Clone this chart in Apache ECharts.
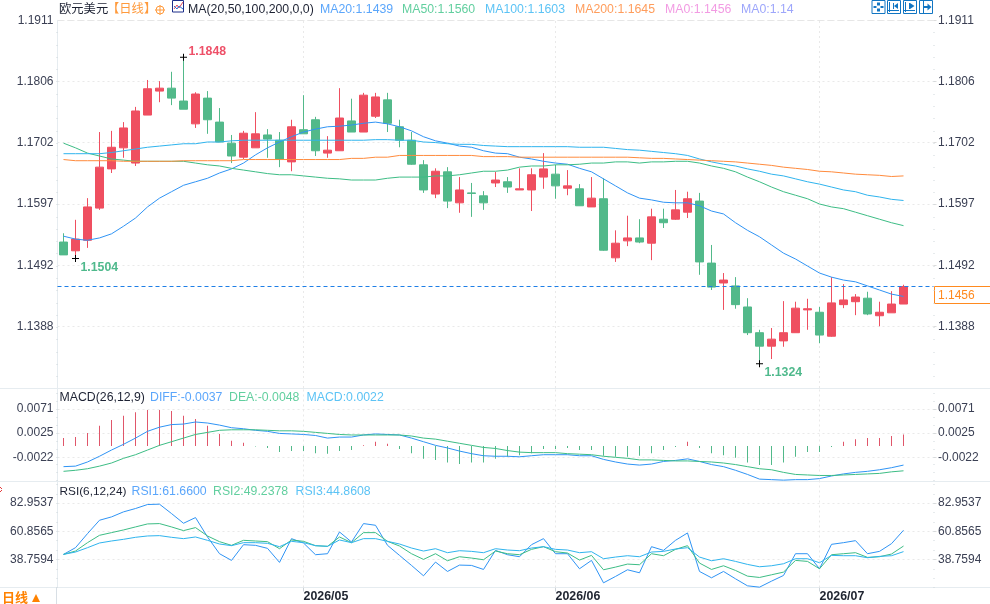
<!DOCTYPE html>
<html>
<head>
<meta charset="utf-8">
<title>欧元美元 日线</title>
<style>html,body{margin:0;padding:0;background:#fff}#chart{width:990px;height:604px}</style>
<script src="https://cdn.jsdelivr.net/npm/echarts@6/dist/echarts.min.js"></script>
</head>
<body>
<div id="chart"></div>
<script>
// Trading days shown on the shared time axis.
const dates = [
'2026-04-03','2026-04-06','2026-04-07','2026-04-08','2026-04-09','2026-04-10','2026-04-13','2026-04-14','2026-04-15','2026-04-16',
'2026-04-17','2026-04-20','2026-04-21','2026-04-22','2026-04-23','2026-04-24','2026-04-27','2026-04-28','2026-04-29','2026-04-30',
'2026-05-01','2026-05-04','2026-05-05','2026-05-06','2026-05-07','2026-05-08','2026-05-11','2026-05-12','2026-05-13','2026-05-14',
'2026-05-15','2026-05-18','2026-05-19','2026-05-20','2026-05-21','2026-05-22','2026-05-25','2026-05-26','2026-05-27','2026-05-28',
'2026-05-29','2026-06-01','2026-06-02','2026-06-03','2026-06-04','2026-06-05','2026-06-08','2026-06-09','2026-06-10','2026-06-11',
'2026-06-12','2026-06-15','2026-06-16','2026-06-17','2026-06-18','2026-06-19','2026-06-22','2026-06-23','2026-06-24','2026-06-25',
'2026-06-26','2026-06-29','2026-06-30','2026-07-01','2026-07-02','2026-07-03','2026-07-06','2026-07-07','2026-07-08','2026-07-09',
'2026-07-10','',''];

// Daily candles.
const opens = [1.1532,1.1517,1.1535,1.1590,1.1657,1.1693,1.1667,1.1749,1.1790,1.1795,1.1773,1.1734,1.1778,1.1737,1.1701,1.1677,1.1693,1.1715,1.1706,1.1669,1.1724,1.1741,1.1684,1.1688,1.1739,1.1720,1.1747,1.1775,1.1729,1.1706,1.1664,1.1614,1.1652,1.1599,1.1616,1.1611,1.1633,1.1635,1.1621,1.1621,1.1643,1.1648,1.1624,1.1623,1.1592,1.1606,1.1505,1.1534,1.1539,1.1530,1.1571,1.1571,1.1583,1.1602,1.1496,1.1462,1.1457,1.1421,1.1377,1.1354,1.1363,1.1377,1.1416,1.1412,1.1371,1.1425,1.1430,1.1436,1.1406,1.1411,1.1426];
const closes = [1.1510,1.1537,1.1592,1.1660,1.1694,1.1727,1.1756,1.1794,1.1795,1.1778,1.1759,1.1785,1.1741,1.1703,1.1679,1.1718,1.1717,1.1708,1.1674,1.1729,1.1717,1.1688,1.1689,1.1744,1.1720,1.1783,1.1780,1.1735,1.1706,1.1665,1.1621,1.1653,1.1602,1.1621,1.1615,1.1599,1.1638,1.1626,1.1623,1.1647,1.1657,1.1628,1.1628,1.1594,1.1607,1.1518,1.1530,1.1539,1.1532,1.1575,1.1565,1.1587,1.1606,1.1498,1.1455,1.1467,1.1425,1.1377,1.1354,1.1366,1.1377,1.1419,1.1418,1.1373,1.1428,1.1433,1.1438,1.1409,1.1412,1.1426,1.1456];
const lows = [1.1510,1.1504,1.1522,1.1587,1.1650,1.1676,1.1662,1.1749,1.1771,1.1766,1.1759,1.1727,1.1717,1.1703,1.1667,1.1674,1.1693,1.1676,1.1660,1.1653,1.1717,1.1679,1.1676,1.1688,1.1720,1.1720,1.1744,1.1720,1.1694,1.1664,1.1616,1.1607,1.1590,1.1582,1.1575,1.1587,1.1626,1.1616,1.1621,1.1585,1.1623,1.1606,1.1612,1.1594,1.1592,1.1517,1.1498,1.1525,1.1530,1.1501,1.1556,1.1570,1.1573,1.1476,1.1450,1.1416,1.1418,1.1373,1.1324,1.1332,1.1353,1.1377,1.1382,1.1359,1.1370,1.1419,1.1407,1.1407,1.1388,1.1411,1.1426];
const highs = [1.1547,1.1570,1.1607,1.1720,1.1722,1.1737,1.1763,1.1809,1.1807,1.1823,1.1848,1.1788,1.1790,1.1761,1.1715,1.1722,1.1754,1.1725,1.1720,1.1741,1.1783,1.1746,1.1713,1.1795,1.1777,1.1787,1.1787,1.1787,1.1741,1.1720,1.1672,1.1658,1.1660,1.1643,1.1633,1.1619,1.1652,1.1643,1.1658,1.1658,1.1684,1.1664,1.1655,1.1631,1.1643,1.1641,1.1552,1.1577,1.1571,1.1589,1.1589,1.1621,1.1618,1.1616,1.1527,1.1479,1.1472,1.1436,1.1382,1.1385,1.1431,1.1430,1.1435,1.1421,1.1472,1.1460,1.1443,1.1447,1.1430,1.1448,1.1459];

// Moving averages.
const ma20 = [1.1542,1.1537,1.1535,1.1539,1.1546,1.1559,1.1573,1.1592,1.1607,1.1618,1.1629,1.1635,1.1641,1.1650,1.1657,1.1667,1.1681,1.1693,1.1703,1.1712,1.1720,1.1725,1.1729,1.1730,1.1732,1.1735,1.1737,1.1734,1.1729,1.1722,1.1712,1.1705,1.1701,1.1696,1.1694,1.1688,1.1684,1.1683,1.1677,1.1674,1.1670,1.1667,1.1665,1.1658,1.1652,1.1640,1.1628,1.1616,1.1607,1.1604,1.1600,1.1599,1.1599,1.1594,1.1585,1.1580,1.1565,1.1552,1.1541,1.1527,1.1513,1.1503,1.1491,1.1479,1.1472,1.1467,1.1464,1.1457,1.1450,1.1443,1.1439];
const ma50 = [1.1701,1.1693,1.1684,1.1679,1.1674,1.1672,1.1670,1.1670,1.1670,1.1670,1.1670,1.1667,1.1664,1.1662,1.1658,1.1655,1.1652,1.1649,1.1647,1.1647,1.1645,1.1643,1.1641,1.1640,1.1638,1.1638,1.1638,1.1641,1.1643,1.1643,1.1643,1.1645,1.1645,1.1647,1.1650,1.1653,1.1653,1.1655,1.1660,1.1662,1.1662,1.1664,1.1664,1.1665,1.1667,1.1667,1.1669,1.1669,1.1667,1.1669,1.1669,1.1670,1.1670,1.1667,1.1662,1.1658,1.1652,1.1643,1.1635,1.1626,1.1618,1.1612,1.1606,1.1597,1.1592,1.1589,1.1583,1.1577,1.1571,1.1565,1.1560];
const ma100 = [1.1683,1.1683,1.1683,1.1683,1.1685,1.1688,1.1691,1.1694,1.1696,1.1698,1.1700,1.1700,1.1703,1.1703,1.1705,1.1706,1.1706,1.1706,1.1706,1.1706,1.1706,1.1706,1.1706,1.1706,1.1706,1.1706,1.1707,1.1707,1.1706,1.1706,1.1703,1.1702,1.1700,1.1699,1.1699,1.1697,1.1696,1.1695,1.1695,1.1695,1.1695,1.1695,1.1695,1.1694,1.1694,1.1694,1.1692,1.1690,1.1689,1.1687,1.1685,1.1683,1.1680,1.1674,1.1669,1.1665,1.1662,1.1657,1.1653,1.1648,1.1645,1.1640,1.1635,1.1631,1.1626,1.1621,1.1618,1.1612,1.1609,1.1605,1.1603];
const ma200 = [1.1673,1.1671,1.1671,1.1671,1.1671,1.1670,1.1670,1.1670,1.1670,1.1670,1.1671,1.1671,1.1671,1.1671,1.1671,1.1673,1.1673,1.1673,1.1673,1.1673,1.1673,1.1673,1.1673,1.1673,1.1675,1.1675,1.1677,1.1677,1.1680,1.1680,1.1680,1.1680,1.1680,1.1680,1.1680,1.1678,1.1678,1.1678,1.1677,1.1677,1.1677,1.1677,1.1677,1.1677,1.1677,1.1677,1.1677,1.1677,1.1676,1.1675,1.1675,1.1674,1.1673,1.1672,1.1671,1.1670,1.1669,1.1667,1.1665,1.1663,1.1660,1.1658,1.1656,1.1653,1.1652,1.1650,1.1648,1.1647,1.1646,1.1644,1.1645];

// MACD panel.
const macdBars = [0.0015,0.0017,0.0025,0.0039,0.0050,0.0058,0.0065,0.0069,0.0069,0.0067,0.0058,0.0052,0.0039,0.0023,0.0010,0.0006,-0.0001,-0.0004,-0.0012,-0.0010,-0.0010,-0.0014,-0.0015,-0.0010,-0.0008,0.0001,0.0008,0.0004,-0.0006,-0.0014,-0.0025,-0.0027,-0.0032,-0.0035,-0.0032,-0.0032,-0.0025,-0.0021,-0.0018,-0.0014,-0.0006,-0.0006,-0.0004,-0.0008,-0.0008,-0.0019,-0.0021,-0.0021,-0.0019,-0.0014,-0.0008,-0.0002,0.0008,-0.0004,-0.0014,-0.0018,-0.0023,-0.0032,-0.0037,-0.0037,-0.0032,-0.0021,-0.0012,-0.0012,-0.0002,0.0008,0.0013,0.0015,0.0015,0.0019,0.0022];
const diff = [-0.0040,-0.0039,-0.0031,-0.0020,-0.0008,0.0003,0.0015,0.0028,0.0036,0.0041,0.0042,0.0046,0.0044,0.0040,0.0035,0.0033,0.0030,0.0028,0.0024,0.0023,0.0022,0.0020,0.0015,0.0017,0.0017,0.0021,0.0023,0.0022,0.0021,0.0015,0.0008,0.0001,-0.0004,-0.0010,-0.0015,-0.0019,-0.0020,-0.0020,-0.0021,-0.0019,-0.0017,-0.0017,-0.0017,-0.0019,-0.0019,-0.0026,-0.0031,-0.0035,-0.0037,-0.0035,-0.0030,-0.0028,-0.0025,-0.0030,-0.0036,-0.0040,-0.0047,-0.0055,-0.0064,-0.0065,-0.0066,-0.0065,-0.0065,-0.0063,-0.0058,-0.0054,-0.0051,-0.0049,-0.0046,-0.0042,-0.0037];
const dea = [-0.0049,-0.0047,-0.0044,-0.0039,-0.0033,-0.0024,-0.0017,-0.0008,0.0001,0.0008,0.0015,0.0022,0.0026,0.0030,0.0031,0.0031,0.0031,0.0030,0.0029,0.0029,0.0028,0.0026,0.0024,0.0022,0.0021,0.0021,0.0021,0.0021,0.0021,0.0019,0.0015,0.0013,0.0009,0.0005,0.0001,-0.0003,-0.0005,-0.0009,-0.0012,-0.0013,-0.0013,-0.0013,-0.0015,-0.0016,-0.0017,-0.0020,-0.0022,-0.0024,-0.0027,-0.0027,-0.0028,-0.0029,-0.0029,-0.0030,-0.0031,-0.0033,-0.0036,-0.0040,-0.0044,-0.0046,-0.0051,-0.0055,-0.0056,-0.0057,-0.0057,-0.0056,-0.0055,-0.0054,-0.0053,-0.0050,-0.0048];

// RSI panel.
const rsi1 = [42.70,47.97,59.02,69.54,72.17,76.12,78.75,81.90,82.17,74.80,67.17,71.64,56.38,43.23,37.97,50.33,49.81,47.44,36.39,55.07,51.65,42.44,43.23,60.33,52.44,66.91,65.59,49.81,41.91,34.02,25.86,36.65,29.28,34.28,34.02,30.86,45.86,42.44,40.86,50.33,55.07,43.23,43.23,31.39,37.97,20.34,25.34,30.60,28.23,48.75,45.86,53.75,59.54,29.28,24.28,29.28,23.50,17.97,16.92,21.65,26.13,43.23,43.23,31.39,50.60,51.91,53.49,43.23,45.07,51.12,61.66];
const rsi2 = [42.70,45.33,51.91,57.70,59.80,61.91,64.28,66.64,66.91,64.28,61.38,63.75,57.17,52.70,49.81,53.75,53.23,52.70,47.17,54.02,52.96,49.54,49.02,56.38,51.91,59.80,59.80,52.96,49.28,43.23,38.76,43.23,37.70,40.86,39.81,38.49,45.33,43.23,42.44,46.65,48.75,44.81,43.76,38.23,41.91,30.60,32.70,35.07,34.55,43.23,41.65,46.65,49.54,35.86,30.86,33.76,30.07,25.60,24.55,26.65,28.76,37.97,37.18,31.39,42.44,43.23,44.02,40.33,40.86,42.97,49.24];
const rsi3 = [42.70,44.54,47.97,51.65,53.23,54.54,56.12,57.17,57.44,56.12,55.07,56.38,53.75,50.86,49.54,51.91,51.91,51.38,48.75,52.96,51.91,49.54,49.02,54.02,51.91,55.07,55.07,52.96,50.86,47.70,45.33,47.17,44.02,45.60,45.07,44.02,47.17,46.12,45.60,47.70,48.75,46.65,46.12,44.02,44.81,39.28,40.60,41.65,40.86,44.54,45.07,46.91,47.97,40.60,37.70,39.28,37.18,34.81,32.97,33.76,35.33,39.28,39.28,36.12,41.91,41.65,41.65,40.07,41.12,41.65,44.86];

// Axis tick values for each panel.
const priceTicks = [1.1911,1.1806,1.1702,1.1597,1.1492,1.1388];
const macdTicks = [0.0071,0.0025,-0.0022];
const rsiTicks = [82.9537,60.8565,38.7594];
const monthStarts = ['2026-05-01','2026-06-01','2026-07-01'];
const extremeDays = [10, 1, 58];
const extremeKinds = ['high','low','low'];

const UP = '#ef4f60', DOWN = '#52b98a', BLUE = '#2f94f5', GREEN = '#3dbd85', SKY = '#2fb4ee', ORANGE = '#ff8b3d';
const TICK_TEXT = '#3b4054', GRID_LINE = '#e9e9e9', FRAME = '#e6ecf0';
const LEFT = 57.5, BAND = 12;
const plotWidth = BAND * dates.length;
const FONT = 'Liberation Sans, Arial, "Noto Sans CJK SC", sans-serif';

const panels = [
  { top: 20.3, bottom: 388, min: 1.12825, max: 1.1911, ticks: priceTicks, digits: 4, sub: 5 },
  { top: 388.5, bottom: 481.5, min: -0.00686, max: 0.01105, ticks: macdTicks, digits: 4, sub: 3 },
  { top: 481.5, bottom: 587.5, min: 16.66, max: 100, ticks: rsiTicks, digits: 4, sub: 3 }
];

const candles = dates.slice(0, opens.length).map((_, i) => [opens[i], closes[i], lows[i], highs[i]]);
const monthIndex = monthStarts.map(d => dates.indexOf(d));
const lastClose = closes[closes.length - 1];

// Small ticks between labelled values, continued to both panel edges.
function minorTicks(p) {
  const step = (p.ticks[0] - p.ticks[1]) / p.sub, out = [];
  for (let v = p.ticks[0]; v < p.max; v += step) out.push(v);
  for (let v = p.ticks[0] - step; v > p.min; v -= step) out.push(v);
  return out;
}

const grids = [], xAxes = [], yAxes = [];
panels.forEach((p, i) => {
  grids.push({ left: LEFT, top: p.top, width: plotWidth, height: p.bottom - p.top });
  xAxes.push({
    type: 'category', gridIndex: i, data: dates, boundaryGap: true,
    axisLine: { show: false }, splitLine: { show: false },
    axisTick: i === 2
      ? { show: true, alignWithLabel: true, length: 4, interval: idx => monthIndex.includes(idx), lineStyle: { color: '#ccd3d8' } }
      : { show: false },
    axisLabel: i === 2
      ? { show: true, interval: idx => monthIndex.includes(idx), align: 'left', margin: 3, color: '#1f2430', fontWeight: 'bold',
          fontFamily: FONT, fontSize: 12.4, formatter: v => v.slice(0, 7).replace('-', '/') }
      : { show: false }
  });
  const base = { type: 'value', gridIndex: i, min: p.min, max: p.max, scale: true };
  yAxes.push({ ...base, position: 'left',
    axisLine: { show: true, lineStyle: { color: FRAME } },
    axisTick: { show: false, customValues: p.ticks },
    axisLabel: { show: true, customValues: p.ticks, margin: 4, color: TICK_TEXT, fontFamily: FONT, fontSize: 12, formatter: v => v.toFixed(p.digits) },
    splitLine: { show: true, lineStyle: { color: GRID_LINE, type: [2, 3] } } });
  yAxes.push({ ...base, position: 'right',
    axisLine: { show: false },
    axisTick: { show: true, customValues: p.ticks, length: 3, lineStyle: { color: '#dcdcdc' } },
    axisLabel: { show: true, customValues: p.ticks, margin: 4.5, color: TICK_TEXT, fontFamily: FONT, fontSize: 12, formatter: v => v.toFixed(p.digits) },
    splitLine: { show: false } });
  ['left', 'right'].forEach(pos => yAxes.push({ ...base, position: pos,
    axisLine: { show: false }, axisLabel: { show: false }, splitLine: { show: false },
    axisTick: { show: true, customValues: minorTicks(p), length: 1, lineStyle: { color: '#cfd6da' } } }));
});
const yIndex = panel => panel * 4;

const line = (name, data, color, panel, extra) => ({
  name, type: 'line', data, xAxisIndex: panel, yAxisIndex: yIndex(panel), showSymbol: false, symbol: 'none',
  lineStyle: { color, width: 1 }, itemStyle: { color }, z: 5, silent: true, ...extra
});

// Vertical month guides, drawn beneath the marks of each panel.
const guides = panel => line('guides' + panel, panel === 1 ? diff : panel === 2 ? rsi1 : closes, 'transparent', panel, {
  z: 1,
  lineStyle: { opacity: 0, width: 0 },
  markLine: { silent: true, symbol: 'none', animation: false, z: 1, label: { show: false },
    lineStyle: { color: GRID_LINE, type: [2, 3], width: 1 },
    data: monthStarts.map(d => ({ xAxis: d })) }
});

const crossMark = 'path://M0 3h7v1H0z M3 0h1v7H3z';
const extremePoints = extremeDays.map((day, i) => {
  const high = extremeKinds[i] === 'high', v = high ? highs[day] : lows[day];
  return {
    coord: [dates[day], v], value: v.toFixed(4),
    label: { color: high ? '#ee5068' : '#4fb98c', offset: high ? [1.5, -6] : [1.5, 9] }
  };
});

const series = [
  guides(0), guides(1), guides(2),
  { name: '日线', type: 'candlestick', data: candles, xAxisIndex: 0, yAxisIndex: yIndex(0), barWidth: 9, silent: true, z: 2,
    itemStyle: { color: UP, color0: DOWN, borderColor: UP, borderColor0: DOWN, borderWidth: 1 },
    markPoint: { silent: true, animation: false, symbol: crossMark, symbolSize: 7, itemStyle: { color: '#000' },
      label: { show: true, position: 'right', distance: 0, fontFamily: FONT, fontSize: 12.3, fontWeight: 'bold', formatter: '{c}' },
      data: extremePoints } },
  line('MA20', ma20, BLUE, 0, {
    markLine: { silent: true, symbol: 'none', animation: false, precision: 6, label: { show: false },
      lineStyle: { color: '#1f7fe6', type: [4, 3], width: 1 },
      data: [{ yAxis: lastClose }] }
  }),
  line('MA50', ma50, GREEN, 0),
  line('MA100', ma100, SKY, 0),
  line('MA200', ma200, ORANGE, 0),
  { name: 'MACD', type: 'bar', xAxisIndex: 1, yAxisIndex: yIndex(1), barWidth: 1, silent: true, z: 2,
    data: macdBars.map(v => ({ value: v, itemStyle: { color: v >= 0 ? '#e0566a' : DOWN, borderWidth: 0 } })) },
  line('DIFF', diff, BLUE, 1),
  line('DEA', dea, GREEN, 1),
  line('RSI1', rsi1, BLUE, 2),
  line('RSI2', rsi2, GREEN, 2),
  line('RSI3', rsi3, SKY, 2)
];

// Header captions: [text, left edge, colour, optional font size].
const priceCaptions = [
  ['欧元美元', 59, '#1d2233'], ['【日线】', 107, '#ff9a3c'], ['MA(20,50,100,200,0,0)', 188, '#1d2233'],
  ['MA20:1.1439', 320, '#5ba6fb'], ['MA50:1.1560', 402, '#62cf9f'], ['MA100:1.1603', 485, '#5cc3f5'],
  ['MA200:1.1645', 575, '#ff9d5c'], ['MA0:1.1456', 665, '#f29be3'], ['MA0:1.14', 741, '#9da6fb']
];
const macdCaptions = [
  ['MACD(26,12,9)', 59.5, '#1d2233'], ['DIFF:-0.0037', 150, '#5ba6fb'], ['DEA:-0.0048', 229, '#62cf9f'], ['MACD:0.0022', 306.5, '#5cc3f5']
];
const rsiCaptions = [
  ['RSI(6,12,24)', 59.5, '#1d2233', 11.8], ['RSI1:61.6600', 131.5, '#5ba6fb'], ['RSI2:49.2378', 213, '#62cf9f'], ['RSI3:44.8608', 295.5, '#5cc3f5']
];

function caption(list, y) {
  return list.map(([text, x, fill, size]) => ({
    type: 'text', silent: true,
    style: { text, x, y, fill, font: (size || 12.3) + 'px ' + FONT, verticalAlign: 'middle' }
  }));
}
const hLine = (x1, y1, x2, y2, stroke, lw, dash) => ({ type: 'line', silent: true, shape: { x1, y1, x2, y2 }, style: { stroke, lineWidth: lw || 1, lineDash: dash || null } });
const solid = (x, y, width, height, fill) => ({ type: 'rect', silent: true, shape: { x, y, width, height }, style: { fill } });
const tri = (pts, fill) => ({ type: 'polygon', silent: true, shape: { points: pts }, style: { fill } });

// Toolbar buttons in the upper right.
function toolButton(x, glyph) {
  const C = '#1175c2';
  return [{ type: 'rect', silent: true, shape: { x: x + 0.5, y: 0.5, width: 13, height: 13 }, style: { stroke: C, fill: '#fff', lineWidth: 1 } }, ...glyph(x, C)];
}
const axesGlyph = (x, C) => [hLine(x + 2.5, 2, x + 2.5, 12, C), hLine(x + 1, 10.5, x + 12, 10.5, C)];
const buttons = [
  ...toolButton(871.5, (x, C) => [solid(x + 5.5, 2.5, 3, 3, C), solid(x + 5.5, 8.5, 3, 3, C), solid(x + 2, 6, 3, 2, C), solid(x + 9, 6, 3, 2, C)]),
  ...toolButton(887, (x, C) => [...axesGlyph(x, C), hLine(x + 6.5, 3, x + 6.5, 9, C), tri([[x + 11, 3], [x + 7, 6], [x + 11, 9]], C)]),
  ...toolButton(903, (x, C) => [...axesGlyph(x, C), hLine(x + 6.5, 3, x + 6.5, 9, C), tri([[x + 7, 3], [x + 11.5, 6], [x + 7, 9]], C)]),
  ...toolButton(919, (x, C) => [hLine(x + 4.5, 1, x + 4.5, 13, C), solid(x + 5, 6, 4, 2, C), tri([[x + 8.5, 3.5], [x + 12.5, 7], [x + 8.5, 10.5]], C)])
];

const chart = echarts.init(document.getElementById('chart'), null, { renderer: 'canvas' });
chart.setOption({
  animation: false, backgroundColor: '#fff', grid: grids, xAxis: xAxes, yAxis: yAxes, series
});

const lastY = chart.convertToPixel({ xAxisIndex: 0, yAxisIndex: 0 }, [dates[0], lastClose])[1];
chart.setOption({
  graphic: { elements: [
    hLine(0, 388.5, 990, 388.5, FRAME), hLine(0, 481.5, 990, 481.5, FRAME), hLine(0, 587.5, 990, 587.5, FRAME),
    hLine(56.5, 587.5, 56.5, 604, '#d8dfe5'),
    hLine(57.5, 20.5, 933.5, 20.5, '#e6e6e6', 1, [6, 4]),
    ...caption(priceCaptions, 9.5), ...caption(macdCaptions, 398), ...caption(rsiCaptions, 492),
    { type: 'circle', silent: true, shape: { cx: 160, cy: 10, r: 4 }, style: { stroke: '#ff9a3c', fill: 'none', lineWidth: 1 } },
    hLine(155, 10, 165, 10, '#ff9a3c'), hLine(160, 5, 160, 15, '#ff9a3c'),
    { type: 'rect', silent: true, shape: { x: 172.5, y: 0.5, width: 11, height: 11.5 }, style: { stroke: '#1c2f8a', fill: '#fff', lineWidth: 1 } },
    { type: 'polyline', silent: true, shape: { points: [[174, 9], [177, 5], [179, 8], [183, 2]] }, style: { stroke: '#e24a5b', fill: 'none', lineWidth: 1 } },
    { type: 'polyline', silent: true, shape: { points: [[174, 6], [177, 9], [179, 6], [183, 9]] }, style: { stroke: '#2d6fd0', fill: 'none', lineWidth: 1 } },
    ...buttons,
    hLine(0, 487, 2, 489, '#e33b3b'), hLine(0, 492, 2, 490, '#e33b3b'),
    { type: 'text', silent: true, style: { text: '日线', x: 2, y: 597, fill: '#ff8200', font: 'bold 13px "Noto Sans CJK SC"', verticalAlign: 'middle' } },
    tri([[32, 602], [36, 594], [40, 602]], '#ff8200'),
    { type: 'rect', silent: true, shape: { x: 934.5, y: Math.round(lastY) + 0.5, width: 60, height: 17 }, style: { stroke: '#ff8a1f', fill: '#fff', lineWidth: 1 } },
    { type: 'text', silent: true, style: { text: lastClose.toFixed(4), x: 938, y: Math.round(lastY) + 9.5, fill: '#ff8a1f', font: '12px ' + FONT, verticalAlign: 'middle' } }
  ] }
});
</script>
</body>
</html>
